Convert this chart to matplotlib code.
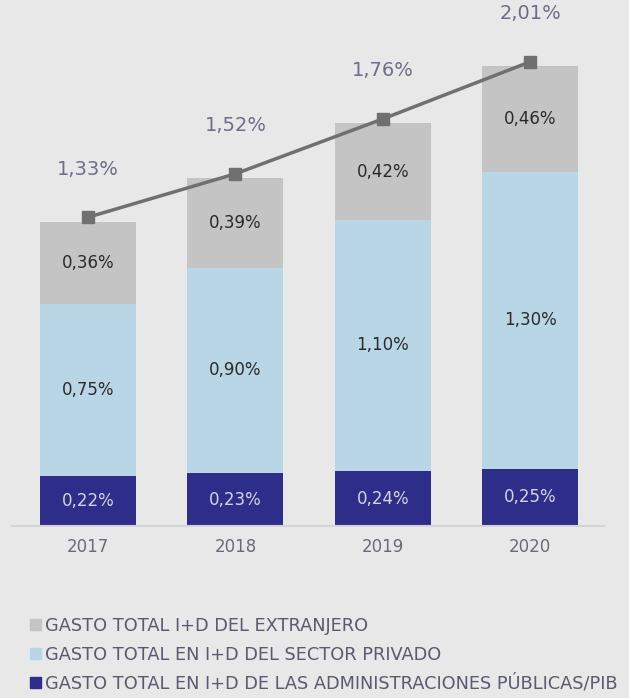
import matplotlib.pyplot as plt
import numpy as np
from matplotlib.patches import Patch

# Datos
anios = ["2017", "2018", "2019", "2020"]
publico = [0.22, 0.23, 0.24, 0.25]
privado = [0.75, 0.90, 1.10, 1.30]
extranjero = [0.36, 0.39, 0.42, 0.46]
total = [1.33, 1.52, 1.76, 2.01]

col_pub = "#2e2e8a"
col_priv = "#b8d6e6"
col_ext = "#c4c4c4"
fondo = "#e8e8e8"

plt.rcParams['font.family'] = ['DejaVu Sans']

fig = plt.figure(figsize=(6.29, 6.98), dpi=100, facecolor=fondo)
ax = fig.add_axes([12 / 629, 172 / 698, 592 / 629, 526 / 698])
ax.set_facecolor(fondo)

x = np.arange(len(anios))
ancho = 0.65
pub = np.array(publico)
priv = np.array(privado)
ext = np.array(extranjero)

ax.bar(x, pub, ancho, color=col_pub, zorder=2)
ax.bar(x, priv, ancho, bottom=pub, color=col_priv, zorder=2)
ax.bar(x, ext, ancho, bottom=pub + priv, color=col_ext, zorder=2)

def fmt(v):
    return f"{v:.2f}%".replace(".", ",")

for i in range(len(anios)):
    ax.text(x[i], pub[i] / 2, fmt(pub[i]), ha="center", va="center",
            color="#d4d4e2", fontsize=12)
    ax.text(x[i], pub[i] + priv[i] / 2, fmt(priv[i]), ha="center", va="center",
            color="#2a2a2a", fontsize=12)
    ax.text(x[i], pub[i] + priv[i] + ext[i] / 2, fmt(ext[i]), ha="center",
            va="center", color="#2a2a2a", fontsize=12)

# Linea de total
ax.plot(x, np.array(total) + 0.02, color="#707070", lw=2.5, marker="s",
        markersize=9, zorder=3)
for i in range(len(anios)):
    ax.text(x[i], total[i] + 0.23, fmt(total[i]), ha="center", va="center",
            color="#6e6e88", fontsize=14)

ax.set_xlim(-0.515, 3.5)
ax.set_ylim(0, 2.30)
ax.set_yticks([])
ax.set_xticks(x)
ax.set_xticklabels(anios, fontsize=12, color="#6a6a7a")
ax.tick_params(axis="x", length=0, pad=9)
for s in ["top", "right", "left"]:
    ax.spines[s].set_visible(False)
ax.spines["bottom"].set_color("#d4d4d4")
ax.spines["bottom"].set_linewidth(1.5)

handles = [
    Patch(color=col_ext, label="GASTO TOTAL I+D DEL EXTRANJERO"),
    Patch(color=col_priv, label="GASTO TOTAL EN I+D DEL SECTOR PRIVADO"),
    Patch(color=col_pub, label="GASTO TOTAL EN I+D DE LAS ADMINISTRACIONES PÚBLICAS/PIB"),
]
leg = fig.legend(handles=handles, loc="upper left",
                 bbox_to_anchor=(30 / 629, 1 - 617 / 698), frameon=False,
                 fontsize=12.8, handlelength=0.6, handleheight=0.6,
                 handletextpad=0.25, labelspacing=0.6, borderaxespad=0,
                 borderpad=0)
for t in leg.get_texts():
    t.set_color("#5a5a70")

plt.savefig("out.png", dpi=100, facecolor=fondo)
